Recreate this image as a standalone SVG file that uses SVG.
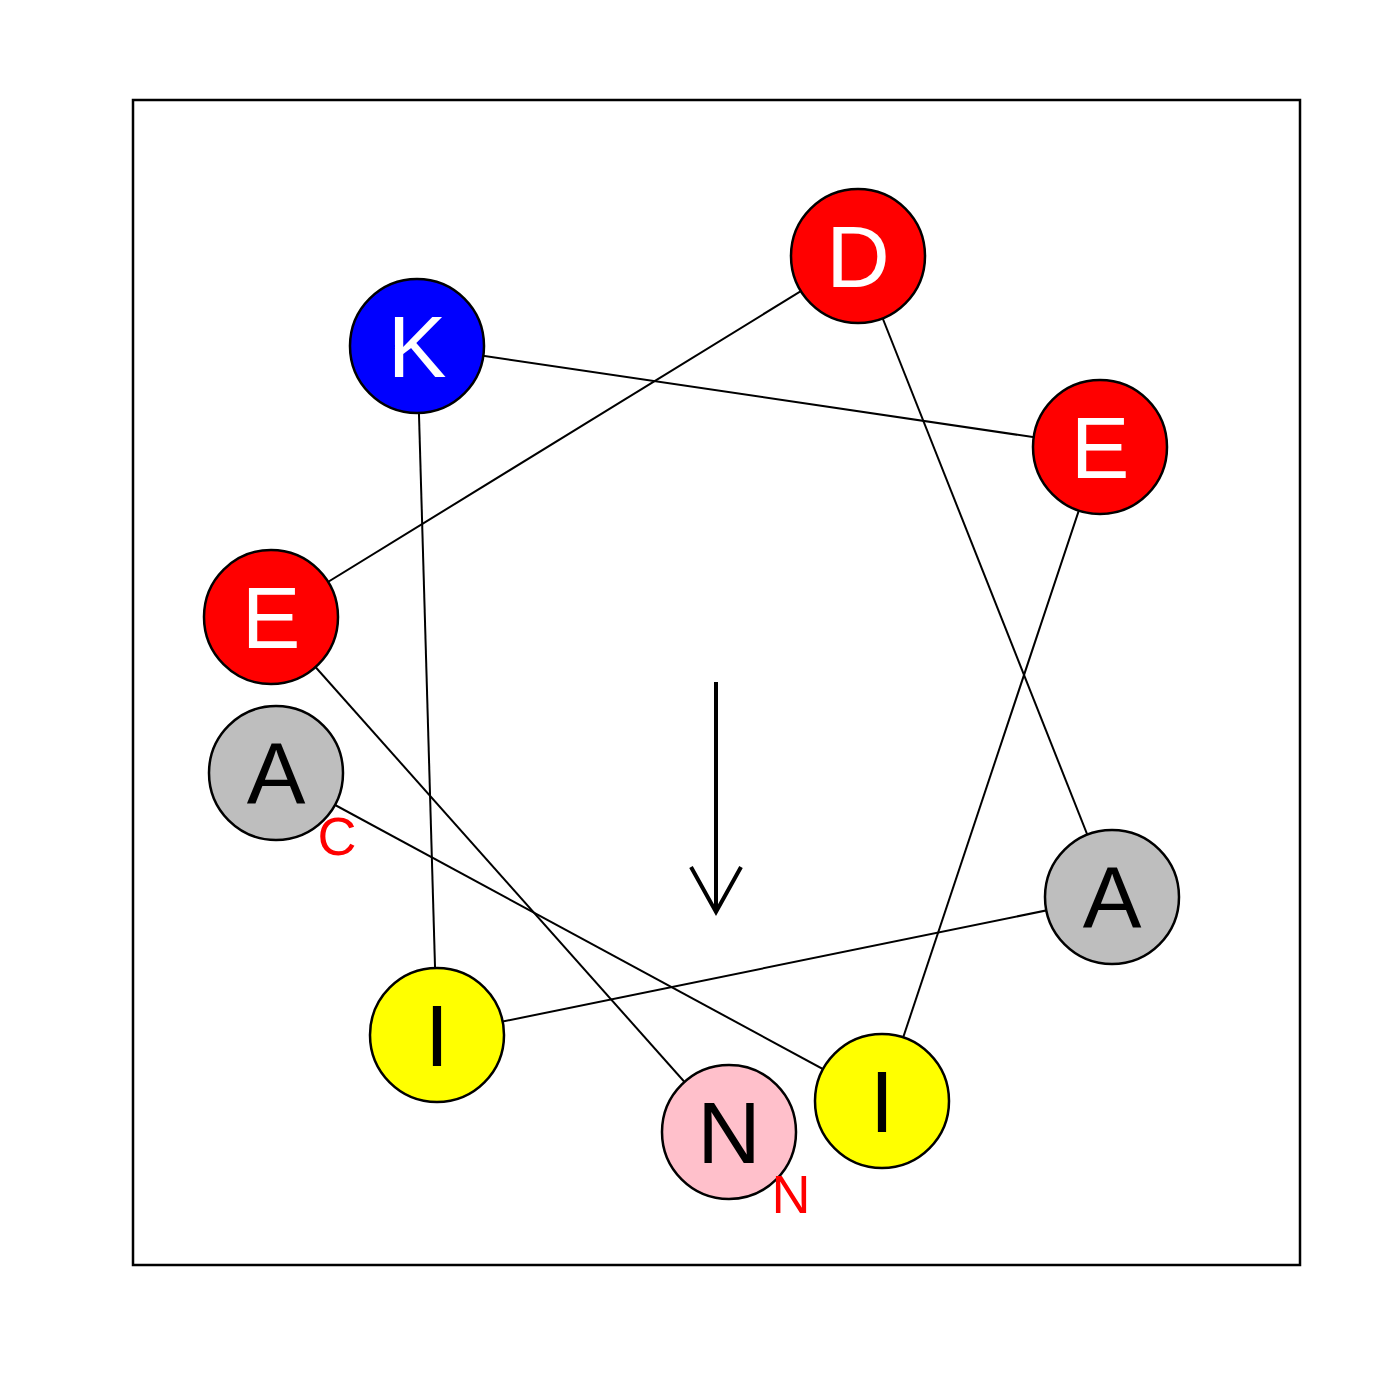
<svg xmlns="http://www.w3.org/2000/svg" width="1400" height="1400" viewBox="0 0 1400 1400">
<style>
.res circle{stroke:#000;stroke-width:2.5}
.res text{font-family:"Liberation Sans",Arial,sans-serif;font-size:88px;text-anchor:middle}
.w{fill:#fff}
.b{fill:#000}
.term{font-family:"Liberation Sans",Arial,sans-serif;font-size:54px;fill:#ff0000;text-anchor:middle}
#links line{stroke:#000;stroke-width:2}
</style>
<rect width="1400" height="1400" fill="#fff"/>
<rect x="133" y="100" width="1167" height="1165" fill="none" stroke="#000" stroke-width="2.5"/>
<g id="links">
<line x1="729" y1="1132" x2="271" y2="617"/>
<line x1="271" y1="617" x2="858" y2="256"/>
<line x1="858" y1="256" x2="1112" y2="897"/>
<line x1="1112" y1="897" x2="437" y2="1035"/>
<line x1="437" y1="1035" x2="417" y2="346"/>
<line x1="417" y1="346" x2="1100" y2="447"/>
<line x1="1100" y1="447" x2="882" y2="1101"/>
<line x1="882" y1="1101" x2="276" y2="773"/>
</g>
<g id="n1" class="res"><circle cx="729" cy="1132" r="67" fill="#ffc0cb"/><text x="729" y="1163" class="b">N</text></g>
<g id="n2" class="res"><circle cx="271" cy="617" r="67" fill="#ff0000"/><text x="271" y="648" class="w">E</text></g>
<g id="n3" class="res"><circle cx="858" cy="256" r="67" fill="#ff0000"/><text x="858" y="287" class="w">D</text></g>
<g id="n4" class="res"><circle cx="1112" cy="897" r="67" fill="#bebebe"/><text x="1112" y="928" class="b">A</text></g>
<g id="n5" class="res"><circle cx="437" cy="1035" r="67" fill="#ffff00"/><text x="437" y="1066" class="b">I</text></g>
<g id="n6" class="res"><circle cx="417" cy="346" r="67" fill="#0000ff"/><text x="417" y="377" class="w">K</text></g>
<g id="n7" class="res"><circle cx="1100" cy="447" r="67" fill="#ff0000"/><text x="1100" y="478" class="w">E</text></g>
<g id="n8" class="res"><circle cx="882" cy="1101" r="67" fill="#ffff00"/><text x="882" y="1132" class="b">I</text></g>
<g id="n9" class="res"><circle cx="276" cy="773" r="67" fill="#bebebe"/><text x="276" y="804" class="b">A</text></g>
<text class="term" x="337" y="855">C</text>
<text class="term" x="791" y="1213">N</text>
<g id="moment" stroke="#000" stroke-width="4" fill="none">
<line x1="716" y1="682" x2="716" y2="912"/>
<polyline points="691,867 716,912 741,867"/>
</g>
</svg>
